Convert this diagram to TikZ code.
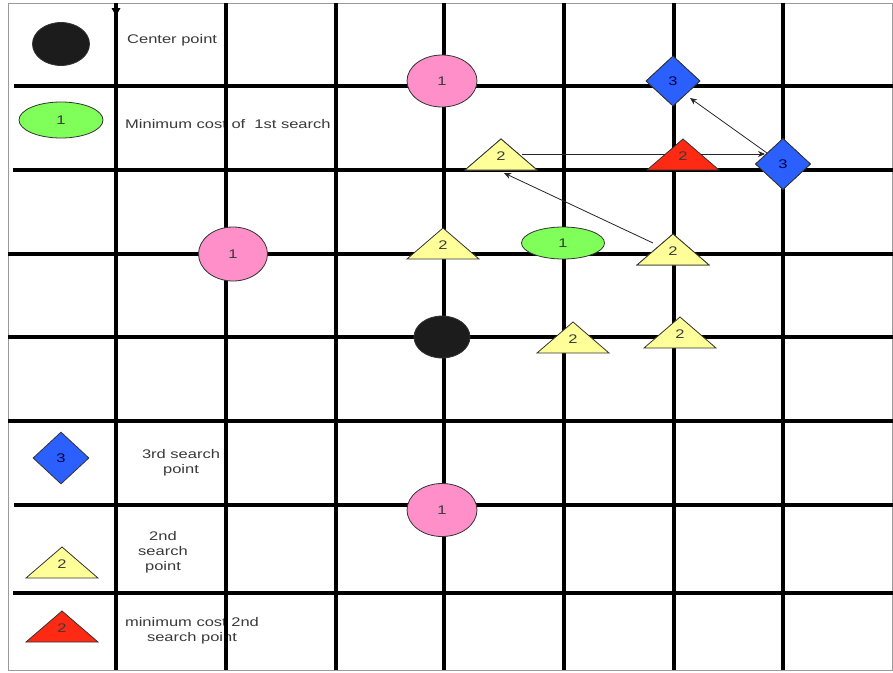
\documentclass[tikz,border=0pt]{standalone}
\usepackage{fontspec}
\setmainfont{Liberation Sans}[FakeStretch=1.32]
\usetikzlibrary{shapes.geometric,arrows.meta,calc}
\definecolor{pinkc}{HTML}{FF8FC8}
\definecolor{greenc}{HTML}{80FF5A}
\definecolor{yellowc}{HTML}{FFFF99}
\definecolor{redc}{HTML}{FF2A14}
\definecolor{bluec}{HTML}{2B60FF}
\definecolor{blackc}{HTML}{1C1C1C}
\definecolor{edgec}{HTML}{333333}
\definecolor{txtc}{HTML}{3A3A3A}
\definecolor{framec}{HTML}{9A9A9A}
\tikzset{
  gridline/.style={line width=4.5pt, black},
  shp/.style={draw=edgec, line width=0.8pt, inner sep=0pt, font=\fontsize{12.5}{15}\selectfont, text=txtc},
  oval/.style={shp, ellipse},
  dia/.style={shp, diamond, fill=bluec, text=black!75!blue},
  lbl/.style={font=\fontsize{12.5}{15}\selectfont, text=txtc, inner sep=0pt},
  conn/.style={line width=0.8pt, draw=black!85, -{Stealth[length=7pt,width=6pt]}},
  trishape/.style={draw=edgec, line width=0.8pt},
}
\newcommand\mytri[4]{%
  \filldraw[trishape, fill=#4] (#2-36,#3+31) -- (#2,#3) -- (#2+36,#3+31) -- cycle;
  \node[lbl] (#1) at (#2,#3+17) {2};}
\begin{document}
\begin{tikzpicture}[x=1pt,y=-1pt]
\useasboundingbox (0,0) rectangle (893,672);
\fill[white] (0,0) rectangle (893,672);
\draw[framec, line width=1pt] (8,3) rectangle (892,670);
% legend texts (under the grid lines)
\node[lbl, anchor=west] (tcp) at (127,40) {Center point};
\node[lbl, anchor=west] (tmc) at (125,124) {Minimum cost of~~1st search};
\node[lbl, align=center] (t3) at (181,463) {3rd search\\point};
\node[lbl, align=center] (t2) at (163,552) {2nd\\search\\point};
\node[lbl, align=center] (tm2) at (192,631) {minimum cost 2nd\\search point};
% grid
\foreach \x in {116,226,336,444,564,674,783} \draw[gridline] (\x,3) -- (\x,670);
\foreach \y/\s in {86/14,170/13,254/8,337/8,421/8,505/14,593/13} \draw[gridline] (\s,\y) -- (893,\y);
\fill (111.5,8) -- (120.5,8) -- (116,16) -- cycle;
% shapes joined by connectors (placed first so the connectors can use their names)
\node[dia, minimum width=54, minimum height=50] (d1) at (673,81) {3};
\node[dia, minimum width=55, minimum height=51] (d2) at (783,164) {3};
\mytri{yb}{501}{139}{yellowc}
\mytri{yc}{673}{234}{yellowc}
% connectors
\draw[conn] ($(yc)+(-20,-8)$) -- ($(yb)+(3,17)$);
\draw[conn] ($(yb)+(21,-2)$) -- ($(d2)+(-18,-10)$);
\draw[conn] ($(d2)+(-16,-11)$) -- ($(d1)+(17,17)$);
% main shapes
\node[oval, fill=pinkc, minimum width=70, minimum height=52] (p1) at (442,81) {1};
\node[oval, fill=pinkc, minimum width=69, minimum height=54] (p2) at (233,254) {1};
\node[oval, fill=pinkc, minimum width=70, minimum height=53] (p3) at (442,510) {1};
\node[oval, fill=blackc, minimum width=56, minimum height=42] (c0) at (442,337) {};
\node[oval, fill=greenc, minimum width=83, minimum height=32] (g1) at (563,243) {1};
\mytri{ya}{443}{228}{yellowc}
\mytri{yd}{573}{322}{yellowc}
\mytri{ye}{680}{317}{yellowc}
\mytri{rd}{683}{139}{redc}
\mytri{yb}{501}{139}{yellowc}
\mytri{yc}{673}{234}{yellowc}
\node[dia, minimum width=54, minimum height=50] (d1) at (673,81) {3};
\node[dia, minimum width=55, minimum height=51] (d2) at (783,164) {3};
% legend shapes
\node[oval, fill=blackc, minimum width=57, minimum height=43] (lc) at (61,44) {};
\node[oval, fill=greenc, minimum width=84, minimum height=36] (lg) at (61,120) {1};
\node[dia, minimum width=56, minimum height=52] (ld) at (61,458) {3};
\mytri{ly}{62}{547}{yellowc}
\mytri{lr}{62}{611}{redc}
\end{tikzpicture}
\end{document}
